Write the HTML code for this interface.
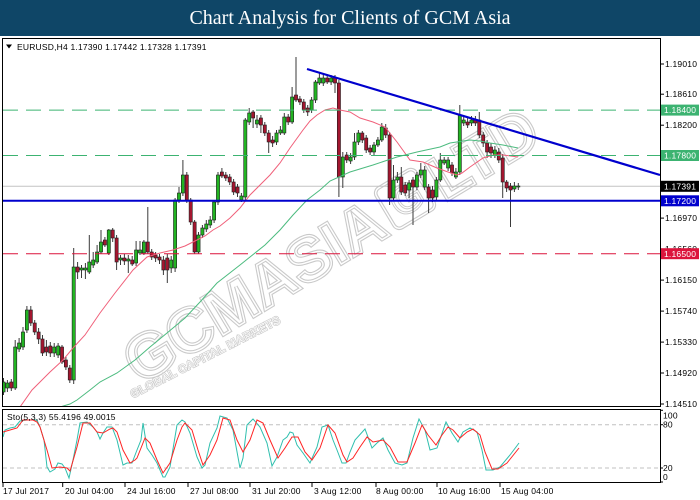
<!DOCTYPE html>
<html><head><meta charset="utf-8">
<style>
html,body{margin:0;padding:0;background:#fff;width:700px;height:500px;overflow:hidden;position:relative}
#t{position:absolute;left:0;top:0;width:700px;height:36px;background:#0f4667;color:#fff;font-family:"Liberation Serif",serif;font-size:20px;text-align:center;line-height:36px}
svg{position:absolute;left:0;top:0}
svg text{font-family:"Liberation Sans",sans-serif}
.ax{font-size:8.5px;letter-spacing:0.2px;fill:#000}
.bx{font-size:8.5px;letter-spacing:0.2px;fill:#fff}
</style></head><body>
<div id="t">Chart Analysis for Clients of GCM Asia</div>
<svg id="s" width="700" height="500" viewBox="0 0 700 500" xmlns="http://www.w3.org/2000/svg">
<defs>
<clipPath id="cm"><rect x="3" y="39" width="657" height="367"/></clipPath>
<clipPath id="cs"><rect x="3" y="410" width="657" height="72"/></clipPath>
</defs>
<!-- watermark -->
<g clip-path="url(#cm)" font-weight="bold">
 <g transform="translate(140,385) rotate(-31)">
  <text x="0" y="0" font-size="62" fill="none" stroke="#c9c9c9" stroke-width="3.6">GCMASIA</text>
  <text x="0" y="0" font-size="62" fill="none" stroke="#fff" stroke-width="1.4">GCMASIA</text>
  <rect x="300" y="-46" width="46" height="46" rx="6" fill="none" stroke="#c9c9c9" stroke-width="3.6"/>
  <rect x="300" y="-46" width="46" height="46" rx="6" fill="none" stroke="#fff" stroke-width="1.4"/>
  <text x="309" y="-9" font-size="40" fill="none" stroke="#c9c9c9" stroke-width="3">G</text>
  <text x="309" y="-9" font-size="40" fill="none" stroke="#fff" stroke-width="1.1">G</text>
  <text x="355" y="0" font-size="62" fill="none" stroke="#c9c9c9" stroke-width="3.6">LTD</text>
  <text x="355" y="0" font-size="62" fill="none" stroke="#fff" stroke-width="1.4">LTD</text>
 </g>
 <g transform="translate(133,398) rotate(-27)">
  <text x="0" y="0" font-size="11" letter-spacing="0.6" fill="none" stroke="#c9c9c9" stroke-width="2">GLOBAL CAPITAL MARKETS</text>
  <text x="0" y="0" font-size="11" letter-spacing="0.6" fill="none" stroke="#fff" stroke-width="0.7">GLOBAL CAPITAL MARKETS</text>
 </g>
</g>
<g clip-path="url(#cm)" id="main">
 <line x1="3" y1="186.3" x2="660" y2="186.3" stroke="#c4c4c4" stroke-width="1"/>
 <g id="candles"></g>
 <polyline fill="none" stroke="#f0607a" stroke-width="1" points="20,407 32,390 40,382 50,372 63,360 73,348 85,335 100,313 115,293 133,270 147,257 160,253 173,250 185,246 193,242 205,236 213,230 220,226 230,218 240,208 250,195 260,185 270,175 280,163 290,148 303,130 310,121 317,115 325,110 333,108 340,110 350,112 360,118 373,122 385,127 397,142 410,160 423,162 437,168 448,172 457,175 462,173 470,167 483,158 493,155 503,155 518,157"/>
 <polyline fill="none" stroke="#4cbb7f" stroke-width="1" points="60,407 70,404 77,400 90,390 100,382 117,373 135,360 150,347 167,333 185,318 200,302 217,283 240,265 250,257 265,245 280,230 293,215 307,200 320,190 330,181 350,172 373,165 397,157 417,152 440,147 450,143 470,140 480,141 490,143 503,145 518,148"/>
 <line x1="3" y1="110.1" x2="660" y2="110.1" stroke="#3cb371" stroke-width="1" stroke-dasharray="15 8"/>
 <line x1="3" y1="155.5" x2="660" y2="155.5" stroke="#3cb371" stroke-width="1" stroke-dasharray="15 8"/>
 <line x1="3" y1="253.7" x2="660" y2="253.7" stroke="#dc143c" stroke-width="1" stroke-dasharray="15 8"/>
 <line x1="3" y1="200.8" x2="660" y2="200.8" stroke="#0000cd" stroke-width="2"/>
 <line x1="307" y1="69" x2="660" y2="175" stroke="#0000cd" stroke-width="2.2"/>
</g>
<!-- frames -->
<rect x="2.5" y="38.5" width="658" height="368" fill="none" stroke="#000" stroke-width="1"/>
<rect x="2.5" y="409.5" width="658" height="73" fill="none" stroke="#000" stroke-width="1"/>
<!-- header -->
<polygon points="6,44.5 12,44.5 9,48.5" fill="#000"/>
<text class="ax" x="17" y="49.8">EURUSD,H4  1.17390 1.17442 1.17328 1.17391</text>
<!-- price axis ticks/labels -->
<g id="pax" stroke="#000" stroke-width="1"></g>
<g id="plab"></g>
<!-- boxes -->
<rect x="661" y="104.6" width="38" height="11" fill="#3cb371"/><text class="bx" x="664" y="113.2">1.18400</text>
<rect x="661" y="150" width="38" height="11" fill="#3cb371"/><text class="bx" x="664" y="158.6">1.17800</text>
<rect x="661" y="180.8" width="38" height="11" fill="#000"/><text class="bx" x="664" y="189.4">1.17391</text>
<rect x="661" y="195.3" width="38" height="11" fill="#0000cd"/><text class="bx" x="664" y="203.9">1.17200</text>
<rect x="661" y="248.2" width="38" height="11" fill="#dc143c"/><text class="bx" x="664" y="256.8">1.16500</text>
<!-- stochastic -->
<g clip-path="url(#cs)">
 <line x1="3" y1="424.7" x2="660" y2="424.7" stroke="#c0c0c0" stroke-width="1" stroke-dasharray="4 3"/>
 <line x1="3" y1="468" x2="660" y2="468" stroke="#c0c0c0" stroke-width="1" stroke-dasharray="4 3"/>
 <polyline fill="none" stroke="#2fbfae" stroke-width="1" points="3,437 5,430 10,428 15,427 20,421 27,420 33,420 37,420 40,427 44,440 47,467 50,472 55,469 58,463 62,464 65,468 69,478 73,460 77,440 80,423 87,422 93,427 97,432 100,439 103,433 107,427 112,427 117,440 123,465 127,463 132,463 137,450 141,440 143,423 147,448 152,455 157,463 163,477 165,477 170,467 177,425 182,420 185,422 190,433 197,457 202,468 205,465 210,443 217,428 220,416 227,418 233,430 240,468 243,458 247,425 253,419 260,427 267,443 272,466 277,457 283,440 287,437 290,432 293,433 297,445 303,453 310,463 317,447 322,427 328,425 333,440 337,450 342,463 346,463 350,452 355,440 365,429 372,448 377,443 383,438 388,450 395,463 402,465 407,463 413,438 419,419 425,430 430,450 437,448 446,422 452,433 458,442 463,432 470,428 477,432 482,450 486,470 493,470 500,467 510,455 519,443"/>
 <polyline fill="none" stroke="#ff2424" stroke-width="1" points="3,432 10,430 17,428 23,420 33,420 37,422 40,427 47,450 52,468 60,467 67,468 70,471 77,447 83,423 90,423 97,432 103,433 110,429 113,428 117,432 123,450 130,463 135,460 137,458 145,438 150,443 157,460 163,473 170,463 177,440 182,427 185,423 192,430 198,450 203,465 210,455 217,440 223,418 230,420 237,440 243,452 250,440 257,420 263,423 270,440 278,458 285,448 292,437 298,437 305,452 312,460 320,448 328,425 335,433 343,455 347,462 353,458 360,447 367,437 373,442 383,440 390,447 398,462 407,462 415,443 422,425 428,435 436,445 442,435 448,427 453,430 460,438 467,432 473,429 480,435 485,452 492,469 498,469 507,463 519,448"/>
</g>
<text class="ax" x="7" y="420">Sto(5,3,3) 55.4196 49.0015</text>
<g stroke="#000" stroke-width="1">
 <line x1="660" y1="424.7" x2="663" y2="424.7"/><line x1="660" y1="468" x2="663" y2="468"/>
 <line x1="660" y1="410.3" x2="663" y2="410.3"/><line x1="660" y1="482" x2="663" y2="482"/>
</g>
<text class="ax" x="663" y="418.5">100</text>
<text class="ax" x="663" y="427.5">80</text>
<text class="ax" x="663" y="471">20</text>
<text class="ax" x="663" y="480">0</text>
<!-- time axis -->
<g stroke="#000" stroke-width="1">
 <line x1="3" y1="483" x2="3" y2="487"/><line x1="62.7" y1="483" x2="62.7" y2="487"/><line x1="125" y1="483" x2="125" y2="487"/><line x1="188" y1="483" x2="188" y2="487"/><line x1="250" y1="483" x2="250" y2="487"/><line x1="312" y1="483" x2="312" y2="487"/><line x1="376" y1="483" x2="376" y2="487"/><line x1="437" y1="483" x2="437" y2="487"/><line x1="500" y1="483" x2="500" y2="487"/>
</g>
<text class="ax" x="3" y="494">17 Jul 2017</text>
<text class="ax" x="65" y="494">20 Jul 04:00</text>
<text class="ax" x="127" y="494">24 Jul 16:00</text>
<text class="ax" x="190" y="494">27 Jul 08:00</text>
<text class="ax" x="252" y="494">31 Jul 20:00</text>
<text class="ax" x="314" y="494">3 Aug 12:00</text>
<text class="ax" x="376" y="494">8 Aug 00:00</text>
<text class="ax" x="438" y="494">10 Aug 16:00</text>
<text class="ax" x="501" y="494">15 Aug 04:00</text>
</svg>
<script>
(function(){
var NS="http://www.w3.org/2000/svg";
var C=[[392,382,378,395],[388,383,380,392],[382,388,379,391],[388,347,340,390],[349,343,338,352],[347,332,327,350],[330,310,306,333],[310,323,306,326],[323,332,320,335],[332,339,328,344],[339,353,335,356],[347,352,340,356],[346,353,342,357],[353,347,343,357],[355,346,343,358],[347,362,345,364],[360,367,357,370],[368,380,365,383],[380,267,248,384],[267,272,262,279],[270,268,265,278],[270,268,263,279],[272,262,235,274],[265,260,252,268],[262,252,245,264],[252,242,230,254],[240,245,237,247],[253,230,229,255],[230,238,228,242],[238,262,235,270],[260,258,255,265],[258,261,254,265],[261,259,255,273],[260,264,256,266],[263,250,241,266],[253,250,241,255],[253,242,240,255],[242,252,207,254],[252,257,249,260],[255,258,252,262],[257,260,254,264],[260,270,256,275],[258,270,254,283],[268,260,256,273],[268,200,198,272],[200,193,187,203],[193,175,160,196],[175,200,172,203],[200,222,198,225],[222,252,220,254],[252,235,232,254],[235,228,225,238],[229,224,220,232],[225,220,216,228],[220,202,200,223],[202,175,172,205],[172,176,168,178],[175,178,172,181],[177,182,174,185],[182,192,179,195],[187,193,184,197],[200,196,193,202],[197,120,118,200],[122,113,108,125],[112,118,110,128],[124,120,115,128],[118,125,115,133],[125,133,122,136],[133,142,130,153],[140,143,136,147],[142,133,130,145],[133,130,126,135],[133,117,113,135],[117,122,114,125],[122,97,87,124],[95,100,57,102],[99,102,96,105],[102,110,99,113],[108,112,105,116],[110,100,97,113],[100,82,80,103],[83,78,72,85],[83,78,74,86],[78,82,74,84],[82,78,75,85],[78,83,75,93],[83,177,80,197],[177,157,152,188],[155,160,152,163],[161,157,153,164],[157,142,133,160],[142,133,130,145],[133,140,131,143],[138,150,135,153],[148,152,145,155],[152,145,142,155],[145,140,137,147],[140,127,123,142],[128,135,124,138],[135,198,132,205],[198,180,165,200],[180,177,172,183],[177,192,167,195],[185,193,182,196],[190,183,180,198],[180,187,177,225],[187,175,172,190],[175,170,163,178],[187,170,166,190],[187,198,184,213],[190,198,186,202],[197,180,177,200],[180,160,153,182],[163,160,157,165],[168,160,157,171],[165,173,162,176],[177,172,168,179],[172,115,105,175],[123,120,115,126],[122,125,118,128],[123,120,116,126],[120,123,116,126],[120,135,112,138],[135,143,132,147],[143,152,140,158],[147,153,143,158],[155,150,146,158],[152,160,148,163],[158,182,154,198],[182,188,180,192],[186,190,183,227],[189,186,182,192],[187,186,183,190]];
var g=document.getElementById("candles");
var s="";
for(var i=0;i<C.length;i++){
 var d=C[i],x=3.5+i*3.9,o=d[0],c=d[1],h=d[2],l=d[3];
 var top=Math.min(o,c),bot=Math.max(o,c),up=c<o;
 s+='<line x1="'+x+'" y1="'+h+'" x2="'+x+'" y2="'+l+'" stroke="#3a3a3a" stroke-width="1"/>';
 s+='<rect x="'+(x-1.6)+'" y="'+top+'" width="3.2" height="'+Math.max(bot-top,1)+'" fill="'+(up?'#22b422':'#a3162f')+'" stroke="#1e1e1e" stroke-width="0.6"/>';
}
g.innerHTML=s;
var ticks=[["1.19010",64],["1.18610",94.2],["1.18200",125.2],["1.17790",156.2],["1.17380",187.2],["1.16970",218.1],["1.16560",249.1],["1.16150",280.1],["1.15740",311.1],["1.15330",342.1],["1.14920",373],["1.14510",404]];
var pa=document.getElementById("pax"),pl=document.getElementById("plab"),a="",b="";
for(var k=0;k<ticks.length;k++){
 var y=ticks[k][1];
 a+='<line x1="660" y1="'+y+'" x2="664" y2="'+y+'"/>';
 b+='<text class="ax" x="665" y="'+(y+3)+'">'+ticks[k][0]+'</text>';
}
pa.innerHTML=a;pl.innerHTML=b;
})();
</script>
</body></html>
